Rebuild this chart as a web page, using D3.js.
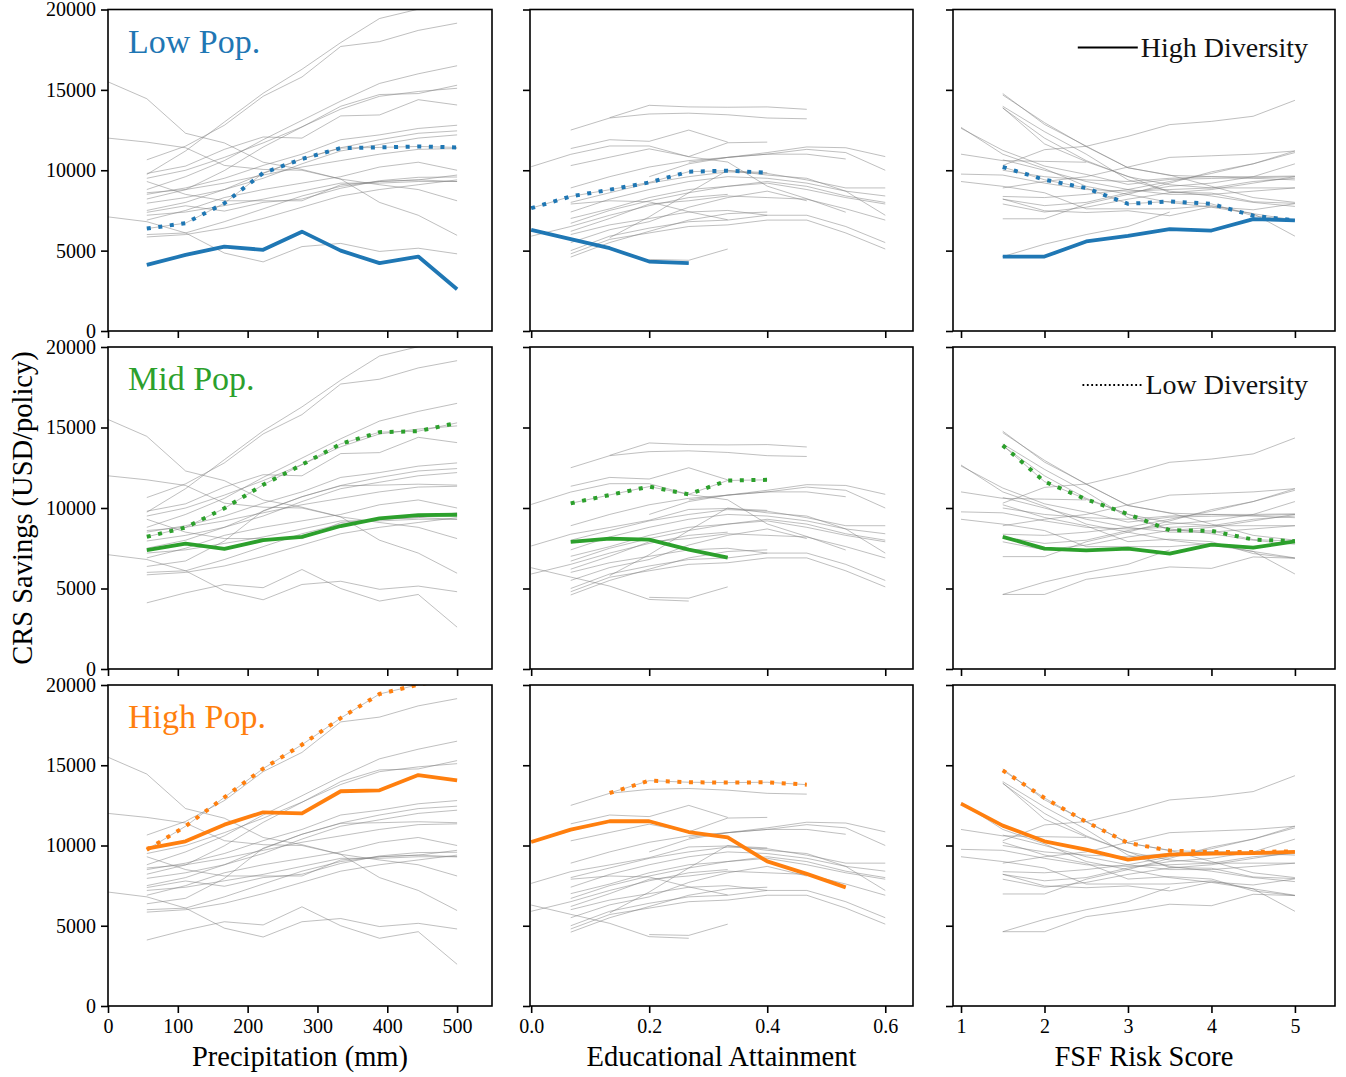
<!DOCTYPE html>
<html>
<head>
<meta charset="utf-8">
<script src="https://cdn.jsdelivr.net/npm/d3@7"></script>
<style>
  body { margin: 0; background: #fff; }
  text { font-family: "Liberation Serif", "DejaVu Serif", serif; }
</style>
</head>
<body>
<div id="chart"></div>
<script>
// ---- data ----
const popLevels = ["Low Pop.", "Mid Pop.", "High Pop."];
const popColors = ["#1f77b4", "#2ca02c", "#ff7f0e"];
const diversityLabels = ["High Diversity", "Low Diversity"];

const precipX = [0, 55.6, 111.1, 166.7, 222.2, 277.8, 333.3, 388.9, 444.4, 500];
const eduX = [0, 0.067, 0.133, 0.2, 0.267, 0.333, 0.4, 0.467, 0.533, 0.6];
const fsfX = [1, 1.5, 2, 2.5, 3, 3.5, 4, 4.5, 5];

const yTicks = [0, 5000, 10000, 15000, 20000];
const precipTicks = [0, 100, 200, 300, 400, 500];
const eduTicks = [0, 0.2, 0.4, 0.6];
const fsfTicks = [1, 2, 3, 4, 5];
const xLabels = ["Precipitation (mm)", "Educational Attainment", "FSF Risk Score"];

// high diversity (solid), one row per pop level
const precipHighDiv = [
  [null, 4110, 4730, 5250, 5050, 6180, 5000, 4220, 4630, 2600],
  [null, 7380, 7790, 7460, 8000, 8210, 8880, 9350, 9560, 9580],
  [null, 9800, 10260, 11300, 12070, 12000, 13380, 13440, 14390, 14060]
];
// low diversity (dotted)
const precipLowDiv = [
  [null, 6370, 6710, 7950, 9830, 10700, 11380, 11420, 11480, 11420],
  [null, 8210, 8790, 9980, 11440, 12690, 13980, 14710, 14770, 15290],
  [null, 9740, 11200, 13000, 14790, 16280, 17940, 19440, 20020, 20500]
];
const precipOther = [
  [15500, 14450, 12300, 11700, 10500, 10050, 9450, 8000, 7200, 5950],
  [12000, 11750, 11400, 10300, 10050, 10000, 9450, 9100, 8800, 8100],
  [7100, 6800, 6100, 4850, 4300, 5250, 5450, 4950, 5150, 4800],
  [null, 10650, 11500, 12800, 14600, 15800, 17700, 18000, 18700, 19150],
  [null, 8800, 9600, 10600, 11900, 13100, 14300, 15400, 16000, 16500],
  [null, 9500, 10000, 10800, 11700, 12700, 13800, 14600, 14900, 15100],
  [null, 8500, 8900, 9500, 10300, 11000, 11900, 12200, 12600, 12800],
  [null, 7500, 8000, 8800, 9800, 10700, 11400, 11900, 12300, 12450],
  [null, 7950, 8300, 8800, 9500, 10400, 11200, 11600, 12000, 12200],
  [null, 8600, 8800, 9200, 9700, 10200, 10600, 11000, 11300, 11350],
  [null, 6900, 7500, 8300, 8800, 9200, 9600, 10200, 10500, 10000],
  [null, 7200, 7400, 7800, 8200, 8700, 9200, 9200, 9300, 9300],
  [null, 6000, 6100, 6800, 7600, 8400, 9000, 9300, 9400, 9300],
  [null, 5850, 6000, 6400, 7000, 7700, 8400, 8800, 9100, 9400],
  [null, 9300, 8500, 8100, 8100, 8100, 9100, 9300, 9400, 9700]
];

const eduHighDiv = [
  [6290, 5710, 5150, 4320, 4220, null, null, null, null, null],
  [null, 7900, 8100, 8040, 7420, 6920, null, null, null, null],
  [10220, 10990, 11510, 11510, 10840, 10510, 9010, 8230, 7390, null]
];
const eduLowDiv = [
  [7640, 8370, 8790, 9240, 9910, 9970, 9850, null, null, null],
  [null, 10290, 10810, 11330, 10850, 11710, 11750, null, null, null],
  [null, null, 13270, 14040, 13940, 13920, 13940, 13790, null, null]
];
const eduOther = [
  [null, 12500, 13250, 13500, 13550, 13450, 13250, 13200, null, null],
  [null, 11350, 11900, 11800, 12500, 11750, null, null, null, null],
  [null, null, null, null, 10500, 10800, 11100, 11450, 11400, 10850],
  [null, 8900, 9600, 10200, 10600, 10800, 11000, 11300, 11100, 10000],
  [null, null, null, 9600, 10400, 10800, 11000, 11000, 10700, null],
  [null, 8000, 8600, 9200, 9600, 9900, 9800, 9400, 8900, 8900],
  [null, 7400, 8200, 8800, 9300, 9600, 9500, 9200, 8700, 8400],
  [null, 7000, 7600, 8300, 8800, 9000, 9300, 9000, 8400, 8000],
  [null, 6700, 7500, 8100, 8600, 9000, 9200, 8800, 8300, 7900],
  [null, null, 5800, 7100, 8600, 10000, 9700, 9500, 8700, 7200],
  [null, 6200, 7000, 7900, 8100, 8400, 8300, 8200, 7600, 6900],
  [null, 5500, 6300, 6800, 7700, 8300, 8700, 8100, null, null],
  [null, 5000, 5900, 6400, 6800, 6900, 7200, 7200, 6500, 5500],
  [null, 4800, 5700, 6100, 6500, 6600, 6900, 6900, 6100, 5100],
  [null, 4600, 5500, 6200, 6900, 7300, 7400, null, null, null],
  [5900, 6500, 7200, 7800, 8300, 8500, null, null, null, null],
  [null, 6000, 6600, 7000, 7400, 7500, 7200, null, null, null],
  [null, null, null, 4450, 4400, 5100, null, null, null, null]
];

const fsfHighDiv = [
  [null, 4630, 4630, 5570, 5920, 6340, 6250, 6960, 6880],
  [null, 8210, 7480, 7370, 7480, 7170, 7730, 7540, 7920],
  [12610, 11240, 10260, 9740, 9120, 9430, 9490, 9530, 9600]
];
const fsfLowDiv = [
  [null, 10200, 9410, 8890, 7910, 8060, 7910, 7170, 6880],
  [null, 13890, 11640, 10540, 9620, 8620, 8580, 8040, 7940],
  [null, 14680, 12960, 11470, 10160, 9680, 9600, 9600, 9640]
];
const fsfOther = [
  [null, 14770, 12850, 11500, 10150, 9700, 9000, 8300, 8000],
  [null, 13980, 12400, 11000, 9400, 8700, 8400, 8000, 7750],
  [null, 13870, 12000, 10600, 9600, 9100, 8900, 9300, 9500],
  [12670, 11000, 10100, 9000, 8500, 8000, 7700, 7300, 5900],
  [null, 10300, 11280, 11490, 12110, 12840, 13040, 13360, 14350],
  [11000, 10600, 10550, 10500, null, null, null, null, null],
  [null, 4630, 5400, 6000, 6500, 7400, null, null, null],
  [null, 6980, 6980, 7900, 8500, 9200, 9900, 10400, 11100],
  [null, 8370, 8300, 8500, 8800, 9300, 9800, 10400, 11200],
  [null, 8200, 7800, 8000, 8600, 9000, 9200, 9600, 10400],
  [null, 10650, 10000, 9300, 8800, 8500, 8500, 8700, 8900],
  [9760, 9700, 9200, 8800, 8700, 8800, 8900, 8900, 8900],
  [9300, 9000, 8600, 7600, 7600, 7600, 7800, 7300, 6900],
  [null, 8900, 9300, 9600, 10200, 10800, 10900, 11000, 11200],
  [null, 7900, 7400, 7700, 8200, 8600, 8800, 9200, 9600],
  [null, 10000, 9600, 9400, 9300, 9500, 9600, 9500, 9400]
];

// ---- layout ----
const W = 1346, H = 1077;
const colLeft = [108, 530, 953], colRight = [492, 913, 1335];
const rowTop = [9.5, 347, 685], rowBottom = [331, 669, 1006];

const columns = [
  { xs: precipX, high: precipHighDiv, low: precipLowDiv, other: precipOther,
    domain: [0, 550], ticks: precipTicks, fmt: d3.format("d") },
  { xs: eduX, high: eduHighDiv, low: eduLowDiv, other: eduOther,
    domain: [-0.002, 0.647], ticks: eduTicks, fmt: d3.format(".1f") },
  { xs: fsfX, high: fsfHighDiv, low: fsfLowDiv, other: fsfOther,
    domain: [0.904, 5.48], ticks: fsfTicks, fmt: d3.format("d") }
];

const svg = d3.select("#chart").append("svg")
  .attr("width", W)
  .attr("height", H);

const defs = svg.append("defs");

columns.forEach((col, ci) => {
  const x = d3.scaleLinear().domain(col.domain).range([colLeft[ci], colRight[ci]]);

  // gray set = every series of this column
  const grays = col.other.concat(col.high, col.low);

  popLevels.forEach((pop, ri) => {
    const y = d3.scaleLinear().domain([0, 20000]).range([rowBottom[ri], rowTop[ri]]);
    const line = d3.line()
      .defined(d => d[1] != null)
      .x(d => x(d[0]))
      .y(d => y(d[1]));
    const pts = arr => col.xs.map((v, i) => [v, arr[i]]);

    const clipId = `clip-${ri}-${ci}`;
    defs.append("clipPath").attr("id", clipId)
      .append("rect")
      .attr("x", colLeft[ci]).attr("y", rowTop[ri])
      .attr("width", colRight[ci] - colLeft[ci])
      .attr("height", rowBottom[ri] - rowTop[ri]);

    const g = svg.append("g").attr("clip-path", `url(#${clipId})`);

    grays.forEach(arr => {
      g.append("path")
        .attr("d", line(pts(arr)))
        .attr("fill", "none")
        .attr("stroke", "#7f7f7f")
        .attr("stroke-opacity", 0.5)
        .attr("stroke-width", 1);
    });

    g.append("path")
      .attr("d", line(pts(col.high[ri])))
      .attr("fill", "none")
      .attr("stroke", popColors[ri])
      .attr("stroke-width", 3.8)
      .attr("stroke-linejoin", "round");

    g.append("path")
      .attr("d", line(pts(col.low[ri])))
      .attr("fill", "none")
      .attr("stroke", popColors[ri])
      .attr("stroke-width", 4)
      .attr("stroke-dasharray", "4,7.6");

    // axes
    const yAxis = svg.append("g")
      .attr("transform", `translate(${colLeft[ci]},0)`)
      .call(d3.axisLeft(y).tickValues(yTicks).tickSize(7).tickPadding(5)
        .tickFormat(ci === 0 ? d3.format("d") : () => ""));
    const xAxis = svg.append("g")
      .attr("transform", `translate(0,${rowBottom[ri]})`)
      .call(d3.axisBottom(x).tickValues(col.ticks).tickSize(7).tickPadding(6)
        .tickFormat(ri === 2 ? col.fmt : () => ""));

    [yAxis, xAxis].forEach(a => {
      a.select(".domain").remove();
      a.selectAll(".tick line").attr("stroke", "#000").attr("stroke-width", 1.6);
      a.selectAll(".tick text")
        .attr("fill", "#000")
        .style("font-family", '"Liberation Serif", serif')
        .style("font-size", "20px");
    });

    // frame
    svg.append("rect")
      .attr("x", colLeft[ci]).attr("y", rowTop[ri])
      .attr("width", colRight[ci] - colLeft[ci])
      .attr("height", rowBottom[ri] - rowTop[ri])
      .attr("fill", "none")
      .attr("stroke", "#000")
      .attr("stroke-width", 1.6);

    if (ci === 0) {
      svg.append("text")
        .attr("x", colLeft[ci] + 20)
        .attr("y", rowTop[ri] + 43)
        .attr("fill", popColors[ri])
        .style("font-size", "34px")
        .text(pop);
    }

    if (ci === 2 && ri < 2) {
      const ty = rowTop[ri] + 38;
      const t = svg.append("text")
        .attr("x", 1308)
        .attr("y", ty + 9)
        .attr("text-anchor", "end")
        .attr("fill", "#111")
        .style("font-size", "28px")
        .text(diversityLabels[ri]);
      const startX = 1308 - t.node().getComputedTextLength();
      svg.append("line")
        .attr("x1", startX - 63).attr("x2", startX - 3)
        .attr("y1", ty).attr("y2", ty)
        .attr("stroke", "#000")
        .attr("stroke-width", ri === 0 ? 2 : 1.8)
        .attr("stroke-dasharray", ri === 0 ? null : "1.8,2.6");
    }
  });

  svg.append("text")
    .attr("x", (colLeft[ci] + colRight[ci]) / 2)
    .attr("y", 1066)
    .attr("text-anchor", "middle")
    .style("font-size", "28.5px")
    .text(xLabels[ci]);
});

svg.append("text")
  .attr("transform", "translate(32,508) rotate(-90)")
  .attr("text-anchor", "middle")
  .style("font-size", "28.5px")
  .text("CRS Savings (USD/policy)");
</script>
</body>
</html>
